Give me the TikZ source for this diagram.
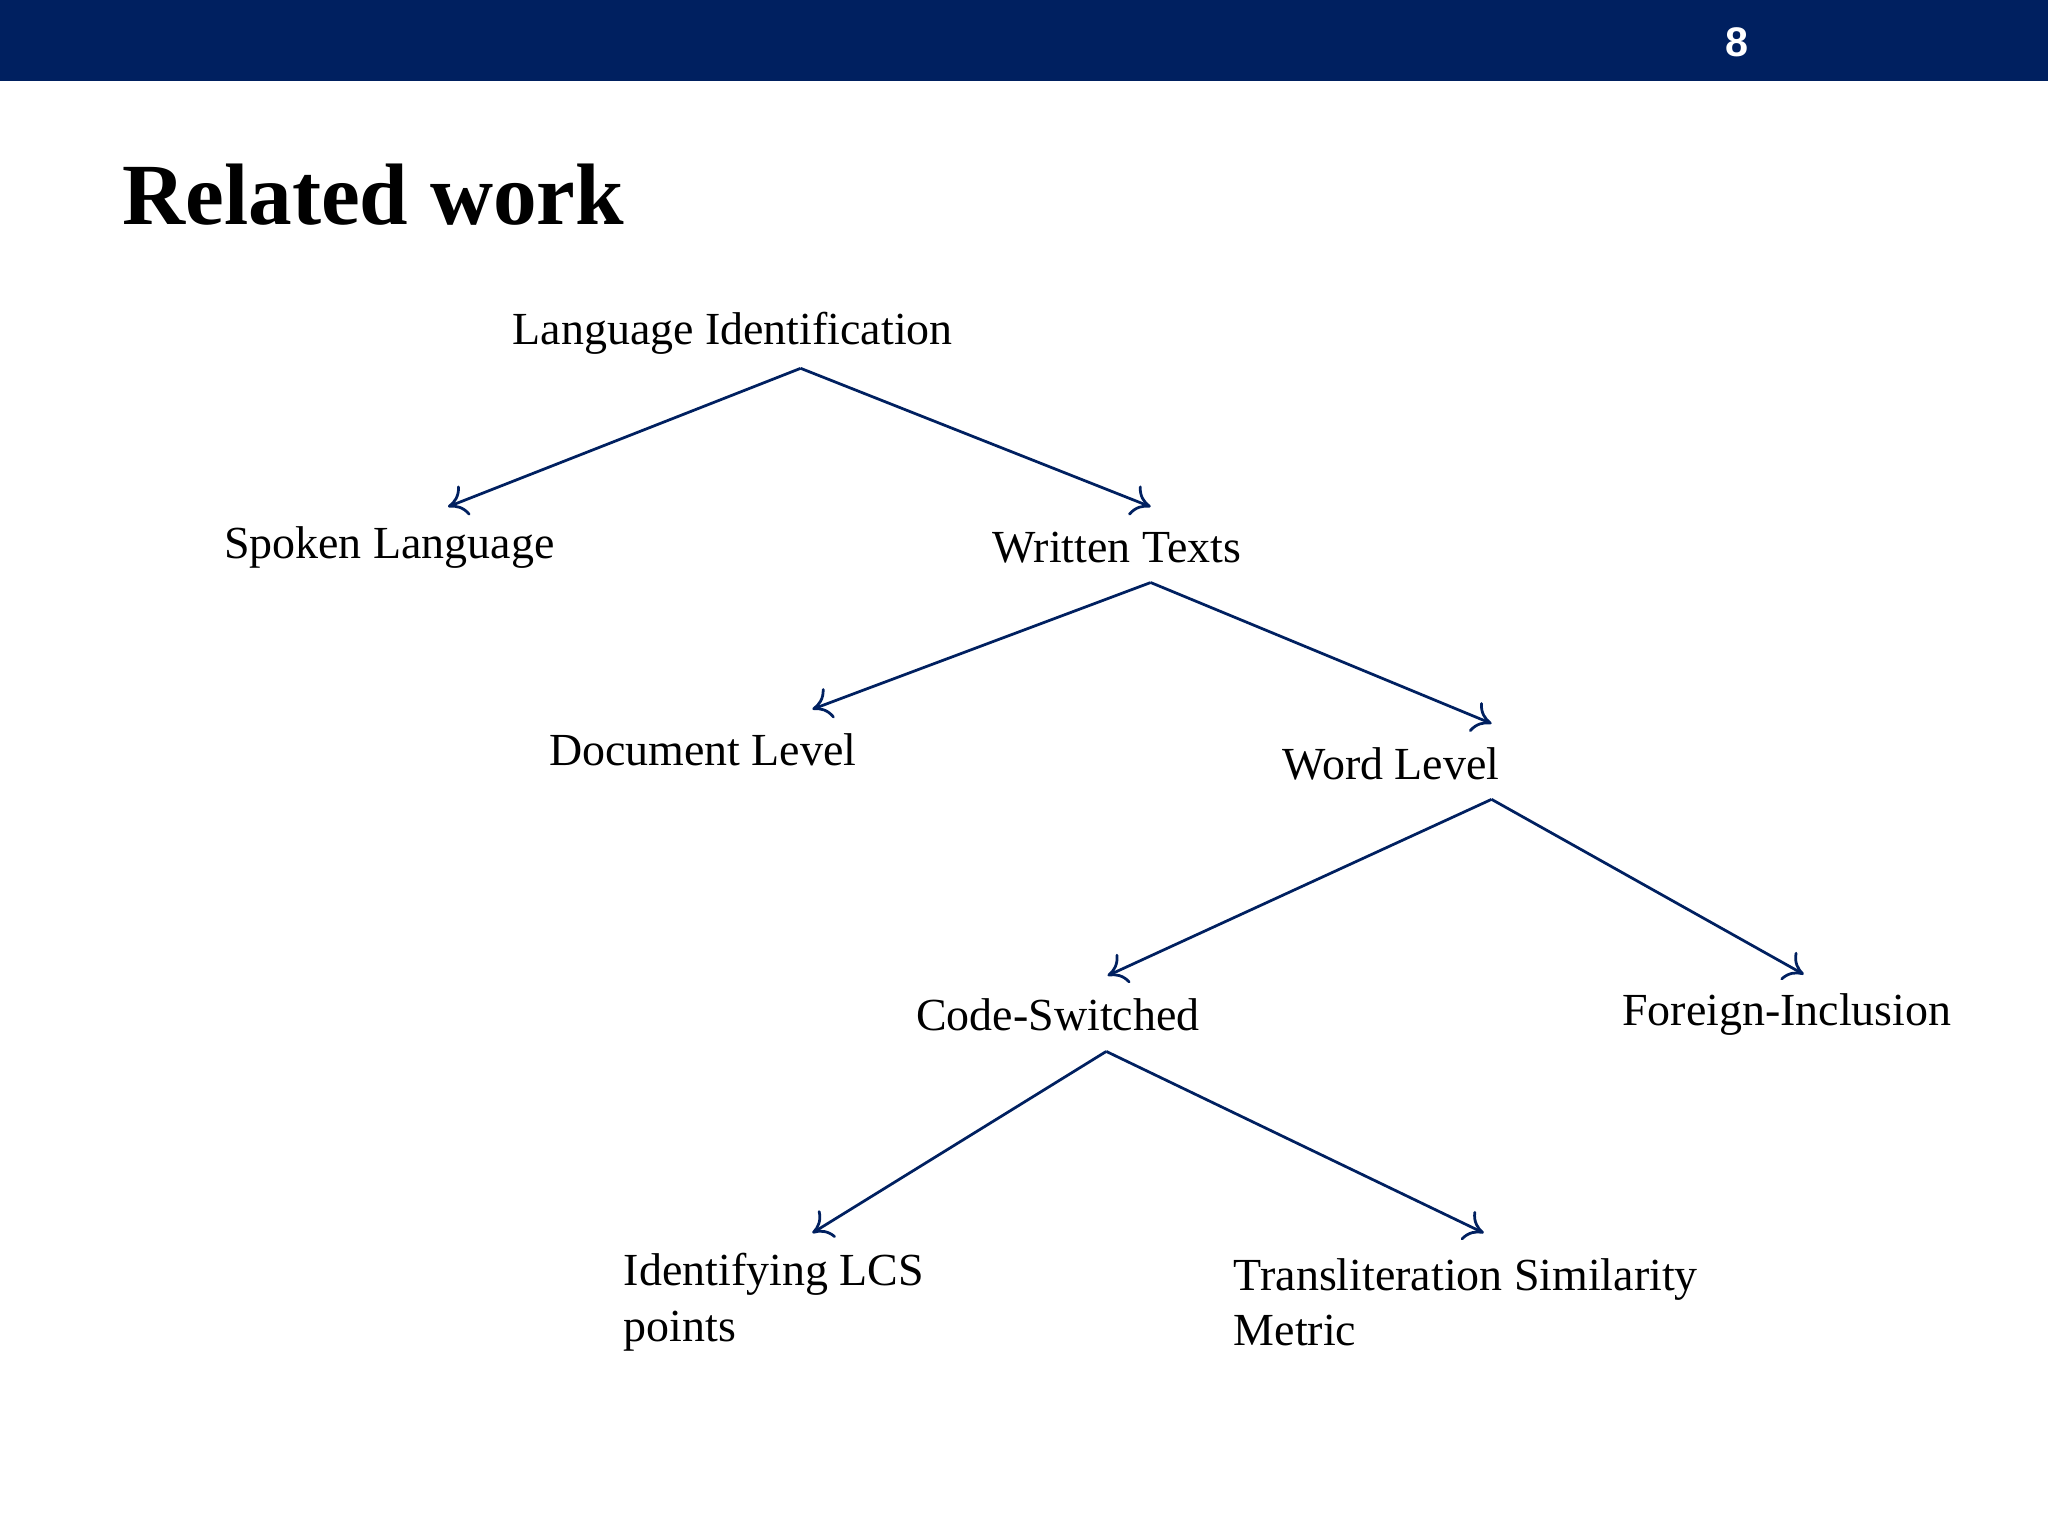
\documentclass[tikz,border=0pt]{standalone}
\usepackage{fontspec}
\usetikzlibrary{arrows.meta}
\setmainfont{Liberation Serif}
\newfontfamily\hdrfont{Liberation Sans}
\definecolor{navy}{RGB}{0,32,96}
\begin{document}
\begin{tikzpicture}[x=0.01cm,y=-0.01cm,
  lbl/.style={font=\fontsize{10}{12}\selectfont,inner sep=0pt},
  arr/.style={draw=navy,line width=0.6pt,-{To[length=4pt,width=7pt]}}]
\useasboundingbox (0,0) rectangle (1568,1176);
\fill[navy] (0,0) rectangle (1568,62);
\node[text=white,font=\hdrfont\bfseries\fontsize{9}{10}\selectfont] (pg) at (1330,32) {8};
\node[anchor=base west,inner sep=0pt,font=\bfseries\fontsize{19}{22}\selectfont] (title) at (93,172) {Related work};
\node[lbl] (li) at (561,255) {Language Identification};
\node[lbl] (sp) at (298,419) {Spoken Language};
\node[lbl] (wt) at (855,419) {Written Texts};
\node[lbl] (dl) at (538,574) {Document Level};
\node[lbl] (wl) at (1065,585) {Word Level};
\node[lbl] (cs) at (810,777) {Code-Switched};
\node[lbl] (fi) at (1368,777) {Foreign-Inclusion};
\node[lbl,anchor=west,align=left] (lcs) at (477,997) {Identifying LCS\\points};
\node[lbl,anchor=west,align=left] (tsm) at (944,997) {Transliteration Similarity\\Metric};
\coordinate (liB) at (613,282); \coordinate (spT) at (343,388); \coordinate (wtT) at (881,388);
\coordinate (wtB) at (881,446); \coordinate (dlT) at (622,543); \coordinate (wlT) at (1142,554);
\coordinate (wlB) at (1142,612); \coordinate (csT) at (848,747); \coordinate (fiT) at (1381,746);
\coordinate (csB) at (847,805); \coordinate (lcsT) at (622,944); \coordinate (tsmT) at (1136,944);
\draw[arr] (liB) -- (spT); \draw[arr] (liB) -- (wtT);
\draw[arr] (wtB) -- (dlT); \draw[arr] (wtB) -- (wlT);
\draw[arr] (wlB) -- (csT); \draw[arr] (wlB) -- (fiT);
\draw[arr] (csB) -- (lcsT); \draw[arr] (csB) -- (tsmT);
\end{tikzpicture}
\end{document}
